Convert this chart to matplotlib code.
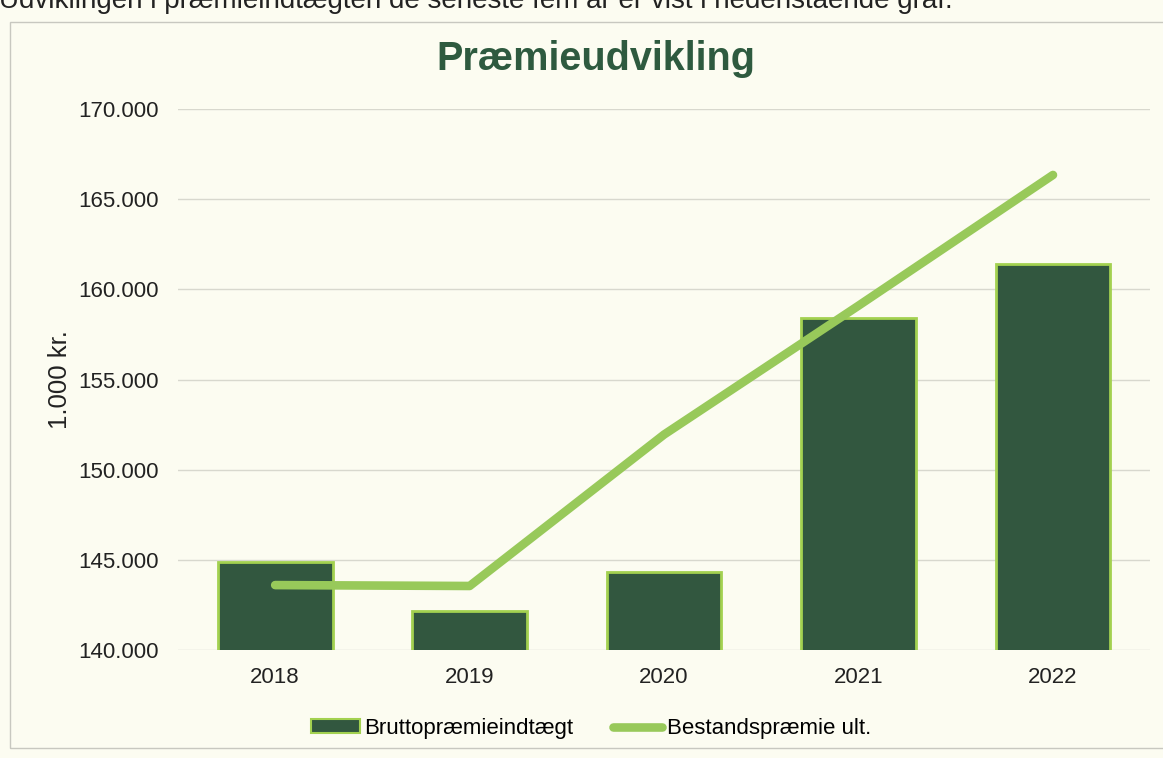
import matplotlib
matplotlib.use('Agg')
import matplotlib.pyplot as plt
import matplotlib.ticker as mtp_ticker
from matplotlib.patches import Rectangle
from matplotlib.lines import Line2D

plt.rcParams['font.family'] = ['Liberation Sans', 'DejaVu Sans']

#### DATA ####
years = ['2018', '2019', '2020', '2021', '2022']
brutto = [144900, 142150, 144350, 158400, 161400]
bestand = [143600, 143550, 151950, 159100, 166350]

intro_text = 'Udviklingen i præmieindtægten de seneste fem år er vist i nedenstående graf.'

bg = '#fcfcf1'
bar_col = '#32573f'
edge_col = '#a3d150'
line_col = '#98c95a'
title_col = '#2e5a3f'

#### FIGURE ####
fig = plt.figure(figsize=(11.63, 7.58), dpi=100, facecolor=bg)
ax = fig.add_axes([0.153, 0.1425, 0.836, 0.7135])
ax.set_facecolor(bg)

x = list(range(len(years)))
ax.bar(x, brutto, width=0.59, color=bar_col, edgecolor=edge_col, linewidth=2,
       label='Bruttopræmieindtægt', zorder=2)
ax.plot(x, bestand, color=line_col, linewidth=6.2, solid_capstyle='round',
        solid_joinstyle='round', label='Bestandspræmie ult.', zorder=3)

ax.set_xlim(-0.5, 4.5)
ax.set_ylim(140000, 170000)
ax.set_yticks(range(140000, 170001, 5000))
ax.get_yaxis().set_major_formatter(
    mtp_ticker.FuncFormatter(lambda v, p: format(int(v), ',').replace(',', '.')))
ax.set_xticks(x)
ax.set_xticklabels(years)
ax.tick_params(axis='both', length=0, labelsize=16, colors='#222222')
ax.tick_params(axis='y', pad=14)
ax.tick_params(axis='x', pad=12)
ax.grid(axis='y', color='#d8d8ce', linewidth=1, zorder=0)
ax.set_axisbelow(True)
for s in ax.spines.values():
    s.set_visible(False)

ax.set_ylabel('1.000 kr.', fontsize=18.5, color='#222222', labelpad=4)

fig.text(0.512, 0.922, 'Præmieudvikling', ha='center', va='center',
         fontsize=28.5, fontweight='bold', color=title_col)

# cut-off sentence from the page above the chart
fig.text(-0.001, 1 - 8 / 758, intro_text, ha='left', va='baseline',
         fontsize=20, color='#222222')

# chart frame
fig.patches.append(Rectangle((0.0086, 0.013), 1.0, 0.958, transform=fig.transFigure,
                             fill=False, edgecolor='#c8c8c0', linewidth=1))

handles = [Rectangle((0, 0), 1, 1, facecolor=bar_col, edgecolor=edge_col, linewidth=1.5),
           Line2D([0], [0], color=line_col, linewidth=6.2, solid_capstyle='round')]
fig.legend(handles, ['Bruttopræmieindtægt', 'Bestandspræmie ult.'],
           loc='center', bbox_to_anchor=(0.508, 0.039), ncol=2, frameon=False,
           fontsize=16, handlelength=2.2, handleheight=0.55, handletextpad=0.2,
           columnspacing=1.8)

fig.savefig('out.png', dpi=100, facecolor=bg)
